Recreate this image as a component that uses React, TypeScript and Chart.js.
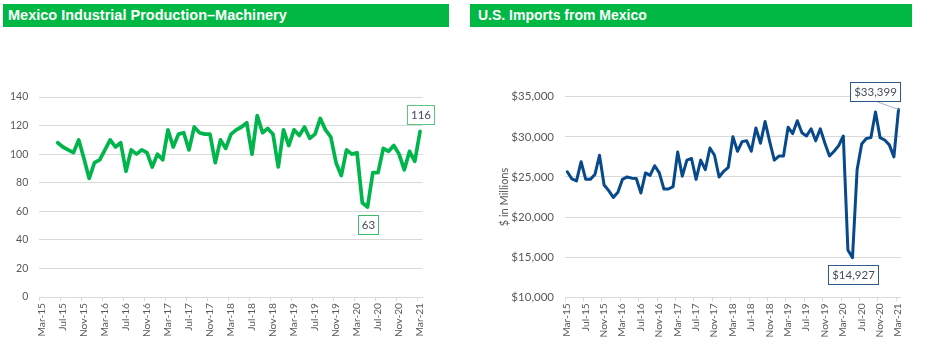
import React, { useEffect, useRef } from 'react';
import { Chart, registerables } from 'chart.js';

Chart.register(...registerables);

// ---- data ----
const tickLabels = [
  'Mar-15', 'Jul-15', 'Nov-15', 'Mar-16', 'Jul-16', 'Nov-16', 'Mar-17', 'Jul-17', 'Nov-17',
  'Mar-18', 'Jul-18', 'Nov-18', 'Mar-19', 'Jul-19', 'Nov-19', 'Mar-20', 'Jul-20', 'Nov-20', 'Mar-21',
];

// monthly, Mar-15 .. Mar-21
const machineryIndex: (number | null)[] = [
  null, null, null, 108, 105, 103, 101, 110, 97, 83,
  94, 96, 103, 110, 105, 108, 88, 103, 100, 103,
  101, 91, 100, 96, 117, 105, 114, 115, 103, 119,
  115, 114, 114, 94, 110, 104, 114, 117, 119, 122,
  100, 127, 115, 118, 114, 91, 117, 106, 117, 113,
  119, 111, 114, 125, 117, 112, 94, 85, 103, 100,
  101, 66, 63, 87, 87, 104, 102, 106, 100, 89,
  102, 95, 116,
];

const importsFromMexico: number[] = [
  25650, 24750, 24500, 26900, 24700, 24700, 25300, 27700, 24000, 23300,
  22450, 23100, 24700, 25000, 24850, 24800, 23000, 25500, 25200, 26400,
  25500, 23500, 23500, 23800, 28100, 25100, 27100, 27300, 24700, 27100,
  25900, 28600, 27700, 25000, 25700, 26200, 30000, 28200, 29400, 29500,
  28200, 31100, 29200, 31900, 29400, 27100, 27600, 27600, 31200, 30400,
  32000, 30500, 30100, 31000, 29500, 31000, 29200, 27600, 28200, 28900,
  30100, 15900, 14927, 25900, 29100, 29800, 29900, 33100, 29900, 29600,
  29000, 27500, 33399,
];

const leftTitle = 'Mexico Industrial Production\u2013Machinery';
const rightTitle = 'U.S. Imports from Mexico';

// ---- styles ----
const GRID = '#D9D9D9';
const TEXT = '#595959';
const NOTE_TEXT = '#434D58';
const FONT = 'Lato';

type Note = { index: number; text: string; dx: number; dy: number; border: string; leader?: string };

const machineryNotes: Note[] = [
  { index: 72, text: '116', dx: 0, dy: -17, border: '#5CC680' },
  { index: 62, text: '63', dx: 0, dy: 17, border: '#3DBB6A' },
];
const importNotes: Note[] = [
  { index: 72, text: '$33,399', dx: -24, dy: -18, border: '#2C5A8E', leader: '#9FB3C8' },
  { index: 62, text: '$14,927', dx: 0, dy: 16.5, border: '#2C5A8E' },
];

function notesPlugin(notes: Note[]) {
  return {
    id: 'boxNotes',
    afterDatasetsDraw(chart: any) {
      const ctx = chart.ctx as CanvasRenderingContext2D;
      const meta = chart.getDatasetMeta(0);
      notes.forEach((n) => {
        const pt = meta.data[n.index];
        if (!pt) return;
        ctx.save();
        ctx.font = `11.5px ${FONT}`;
        const w = Math.round(ctx.measureText(n.text).width + 7);
        const h = 19;
        const cx = pt.x + n.dx;
        const cy = pt.y + n.dy;
        const x0 = Math.round(cx - w / 2) + 0.5;
        const y0 = Math.round(cy - h / 2) + 0.5;
        if (n.leader) {
          ctx.strokeStyle = n.leader;
          ctx.lineWidth = 1;
          ctx.beginPath();
          ctx.moveTo(cx + 2, y0 + h);
          ctx.lineTo(pt.x, pt.y);
          ctx.stroke();
        }
        ctx.fillStyle = '#FFFFFF';
        ctx.fillRect(x0, y0, w, h);
        ctx.strokeStyle = n.border;
        ctx.lineWidth = 1;
        ctx.strokeRect(x0, y0, w, h);
        ctx.fillStyle = NOTE_TEXT;
        ctx.textAlign = 'center';
        ctx.textBaseline = 'middle';
        ctx.fillText(n.text, x0 + w / 2, y0 + h / 2 + 0.5);
        ctx.restore();
      });
    },
  };
}

function xAxis(height: number) {
  return {
    type: 'linear' as const,
    min: -0.5,
    max: 72.5,
    afterBuildTicks: (scale: any) => {
      scale.ticks = tickLabels.map((_, k) => ({ value: k * 4 - 0.5 }));
    },
    afterFit: (scale: any) => {
      scale.height = height;
    },
    grid: { display: true, drawOnChartArea: false, drawTicks: true, tickLength: 4, color: GRID, lineWidth: 1 },
    border: { display: true, color: GRID, width: 1 },
    ticks: {
      autoSkip: false,
      maxRotation: 90,
      minRotation: 90,
      padding: 2,
      labelOffset: 2,
      color: TEXT,
      font: { family: FONT, size: 10.2 },
      callback: (_v: any, i: number) => tickLabels[i],
    },
  };
}

function buildConfig(
  values: (number | null)[],
  color: string,
  lineWidth: number,
  yScale: any,
  padding: any,
  xHeight: number,
  notes: Note[],
) {
  return {
    type: 'line' as const,
    data: {
      datasets: [
        {
          data: values.map((v, i) => ({ x: i, y: v })),
          borderColor: color,
          backgroundColor: color,
          borderWidth: lineWidth,
          pointRadius: 0,
          tension: 0,
          borderJoinStyle: 'round' as const,
          borderCapStyle: 'round' as const,
          spanGaps: false,
        },
      ],
    },
    options: {
      responsive: false,
      animation: false as const,
      devicePixelRatio: 1,
      layout: { padding },
      plugins: { legend: { display: false }, tooltip: { enabled: false }, title: { display: false } },
      scales: { x: xAxis(xHeight), y: yScale },
    },
    plugins: [notesPlugin(notes)],
  };
}

export default function App() {
  const leftRef = useRef<HTMLCanvasElement>(null);
  const rightRef = useRef<HTMLCanvasElement>(null);

  useEffect(() => {
    const left = new Chart(
      leftRef.current!,
      buildConfig(
        machineryIndex,
        '#00B64C',
        3.7,
        {
          type: 'linear',
          min: 0,
          max: 140,
          afterFit: (scale: any) => {
            scale.width = 39.3;
          },
          grid: { color: GRID, drawTicks: false, lineWidth: 1 },
          border: { display: false },
          ticks: { stepSize: 20, padding: 11, color: TEXT, font: { family: FONT, size: 10.5 } },
        },
        { top: 67, right: 43.3, left: 0, bottom: 0 },
        62,
        machineryNotes,
      ) as any,
    );
    const right = new Chart(
      rightRef.current!,
      buildConfig(
        importsFromMexico,
        '#08498C',
        3,
        {
          type: 'linear',
          min: 10000,
          max: 35000,
          afterFit: (scale: any) => {
            scale.width = 99;
          },
          grid: { color: GRID, drawTicks: false, lineWidth: 1 },
          border: { display: false },
          title: {
            display: true,
            text: '$ in Millions',
            color: TEXT,
            font: { family: FONT, size: 11 },
            padding: { top: 31.4, bottom: 0 },
          },
          ticks: {
            stepSize: 5000,
            padding: 11,
            color: TEXT,
            font: { family: FONT, size: 11.5 },
            callback: (v: any) => '$' + Number(v).toLocaleString('en-US'),
          },
        },
        { top: 66.7, right: 31.2, left: 0, bottom: 0 },
        61.7,
        importNotes,
      ) as any,
    );
    return () => {
      left.destroy();
      right.destroy();
    };
  }, []);

  const header: React.CSSProperties = {
    position: 'absolute',
    top: 4,
    height: 23,
    lineHeight: '23px',
    background: '#00B843',
    color: '#FFFFFF',
    fontFamily: '"Liberation Sans", Arial, sans-serif',
    fontWeight: 'bold',
    fontSize: 14,
    whiteSpace: 'nowrap',
    boxSizing: 'border-box',
  };

  return (
    <div style={{ position: 'absolute', left: 0, top: 0, width: 932, height: 359, background: '#FFFFFF', overflow: 'hidden' }}>
      <div style={{ ...header, left: 3, width: 446, paddingLeft: 5, fontSize: 14.5 }}>{leftTitle}</div>
      <div style={{ ...header, left: 470, width: 442, paddingLeft: 8 }}>{rightTitle}</div>
      <canvas
        ref={leftRef}
        width={466}
        height={329}
        style={{ position: 'absolute', left: 0, top: 30, width: 466, height: 329, display: 'block' }}
      />
      <canvas
        ref={rightRef}
        width={466}
        height={329}
        style={{ position: 'absolute', left: 466, top: 30, width: 466, height: 329, display: 'block' }}
      />
    </div>
  );
}
